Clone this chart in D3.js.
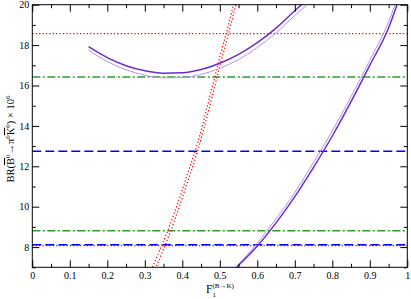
<!DOCTYPE html>
<html>
<head>
<meta charset="utf-8">
<script src="https://cdn.jsdelivr.net/npm/d3@7"></script>
<style>
  body { margin: 0; background: #fff; }
  svg { display: block; font-family: "Liberation Serif", "DejaVu Serif", serif; }
</style>
</head>
<body>
<svg id="chart" width="411" height="299"></svg>
<script>
// tick values
const xTicks = [0, 0.1, 0.2, 0.3, 0.4, 0.5, 0.6, 0.7, 0.8, 0.9, 1];
const xMinor = [0.05, 0.15, 0.25, 0.35, 0.45, 0.55, 0.65, 0.75, 0.85, 0.95];
const yTicks = [8, 10, 12, 14, 16, 18, 20];
const yMinor = [7, 9, 11, 13, 15, 17, 19];

// horizontal bands (BR values)
const hLines = [
  { y: 18.57, kind: "dot" },
  { y: 16.42, kind: "dashdot" },
  { y: 12.75, kind: "dash" },
  { y: 8.81, kind: "dashdot" },
  { y: 8.07, kind: "dot" },
  { y: 8.12, kind: "dash" }
];

// purple parabola pair
const parabF = [0.15, 0.2, 0.25, 0.3, 0.35, 0.4, 0.45, 0.5, 0.55, 0.6, 0.65, 0.7, 0.73];
const parabDark = [17.92, 17.38, 16.98, 16.73, 16.61, 16.63, 16.79, 17.10, 17.54, 18.12, 18.84, 19.70, 20.2];
const parabLight = [17.75, 17.19, 16.78, 16.51, 16.38, 16.40, 16.55, 16.85, 17.29, 17.88, 18.60, 19.47, 19.95];

// purple steep pair (right)
const steepF = [0.545, 0.6, 0.65, 0.7, 0.75, 0.8, 0.85, 0.9, 0.95, 0.98];
const steepDark = [7.0, 8.05, 9.2, 10.5, 11.95, 13.5, 15.2, 17.0, 18.85, 20.4];
const steepLight = [7.05, 8.2, 9.4, 10.7, 12.2, 13.75, 15.45, 17.25, 19.15, 20.7];

// red dotted pair
const redF = [0.32, 0.35, 0.38, 0.41, 0.44, 0.47, 0.50, 0.53, 0.55];
const redA = [7.0, 8.3, 9.75, 11.4, 13.1, 15.2, 17.4, 19.5, 21.0];
const redB = [6.6, 7.9, 9.35, 11.0, 12.7, 14.75, 16.95, 19.05, 20.55];

const svg = d3.select("#chart");
const width = +svg.attr("width");
const height = +svg.attr("height");
const margin = { top: 4.7, right: 3.7, bottom: 31.7, left: 32.3 };

const x = d3.scaleLinear().domain([0, 1]).range([margin.left, width - margin.right]);
const y = d3.scaleLinear().domain([7, 20]).range([height - margin.bottom, margin.top]);

svg.append("clipPath").attr("id", "plot")
  .append("rect")
  .attr("x", margin.left).attr("y", margin.top)
  .attr("width", x(1) - x(0)).attr("height", y(7) - y(20));

const styles = {
  dot: { color: "#ff0000", dash: "1.3,2.1", w: 1.2 },
  dashdot: { color: "#2e9a2e", dash: "8,2.5,2,2.5", w: 1.3 },
  dash: { color: "#0000ff", dash: "9,4", w: 1.5 }
};

const g = svg.append("g").attr("clip-path", "url(#plot)");

g.selectAll("line.h")
  .data(hLines)
  .enter()
  .append("line")
  .attr("class", "h")
  .attr("x1", x(0)).attr("x2", x(1))
  .attr("y1", d => y(d.y)).attr("y2", d => y(d.y))
  .attr("stroke", d => styles[d.kind].color)
  .attr("stroke-width", d => styles[d.kind].w)
  .attr("stroke-dasharray", d => styles[d.kind].dash);

const line = d3.line()
  .x(d => x(d[0]))
  .y(d => y(d[1]))
  .curve(d3.curveMonotoneX);

function series(fs, vs) {
  return fs.map((f, i) => [f, vs[i]]);
}

// red dotted pair
[series(redF, redA), series(redF, redB)].forEach(s => {
  g.append("path").datum(s)
    .attr("d", line)
    .attr("fill", "none")
    .attr("stroke", "#ff0000")
    .attr("stroke-width", 1.2)
    .attr("stroke-dasharray", "1.3,2.1");
});

// purple curves
const curves = [
  { d: series(parabF, parabLight), c: "#b58ff0", w: 1 },
  { d: series(parabF, parabDark), c: "#6a2cd0", w: 1.5 },
  { d: series(steepF, steepLight), c: "#b58ff0", w: 1 },
  { d: series(steepF, steepDark), c: "#6a2cd0", w: 1.5 }
];
curves.forEach(cv => {
  g.append("path").datum(cv.d)
    .attr("d", line)
    .attr("fill", "none")
    .attr("stroke", cv.c)
    .attr("stroke-width", cv.w);
});

// frame
svg.append("rect")
  .attr("x", x(0)).attr("y", y(20))
  .attr("width", x(1) - x(0)).attr("height", y(7) - y(20))
  .attr("fill", "none").attr("stroke", "#000").attr("stroke-width", 1);

// axes with inward ticks
function styleAxis(sel) {
  sel.select(".domain").remove();
  sel.selectAll("line").attr("stroke", "#000");
  sel.selectAll("text").attr("fill", "#000");
  sel.attr("font-family", null).attr("font-size", 10);
}

svg.append("g")
  .attr("transform", `translate(0,${y(7)})`)
  .call(d3.axisBottom(x).tickValues(xTicks).tickSize(-7).tickPadding(5).tickFormat(d => String(d)))
  .call(styleAxis);
svg.append("g")
  .attr("transform", `translate(0,${y(7)})`)
  .call(d3.axisBottom(x).tickValues(xMinor).tickSize(-3.5).tickFormat(""))
  .call(styleAxis);
svg.append("g")
  .attr("transform", `translate(0,${y(20)})`)
  .call(d3.axisTop(x).tickValues(xTicks).tickSize(-7).tickFormat(""))
  .call(styleAxis);
svg.append("g")
  .attr("transform", `translate(0,${y(20)})`)
  .call(d3.axisTop(x).tickValues(xMinor).tickSize(-3.5).tickFormat(""))
  .call(styleAxis);

svg.append("g")
  .attr("transform", `translate(${x(0)},0)`)
  .call(d3.axisLeft(y).tickValues(yTicks).tickSize(-7).tickPadding(3).tickFormat(d => String(d)))
  .call(styleAxis);
svg.append("g")
  .attr("transform", `translate(${x(0)},0)`)
  .call(d3.axisLeft(y).tickValues(yMinor).tickSize(-3.5).tickFormat(""))
  .call(styleAxis);
svg.append("g")
  .attr("transform", `translate(${x(1)},0)`)
  .call(d3.axisRight(y).tickValues(yTicks).tickSize(-7).tickFormat(""))
  .call(styleAxis);
svg.append("g")
  .attr("transform", `translate(${x(1)},0)`)
  .call(d3.axisRight(y).tickValues(yMinor).tickSize(-3.5).tickFormat(""))
  .call(styleAxis);

// x label: F_1^(B->K)
const xl = svg.append("text")
  .attr("x", 206).attr("y", 293)
  .attr("font-size", 11.5);
xl.append("tspan").text("F");
xl.append("tspan").attr("font-size", 7).attr("dy", 3.5).text("1");
xl.append("tspan").attr("font-size", 7).attr("dx", -3.5).attr("dy", -9).text("(B\u2192K)");

// y label: BR(B0bar -> pi0 K0bar) x 10^6
const yl = svg.append("text")
  .attr("transform", "translate(14,139) rotate(-90)")
  .attr("text-anchor", "middle")
  .attr("font-size", 10.5);
yl.append("tspan").text("BR(");
yl.append("tspan").style("text-decoration", "overline").text("B");
yl.append("tspan").attr("font-size", 7).attr("dy", -4.5).text("0");
yl.append("tspan").attr("dy", 4.5).text("\u2192\u03c0");
yl.append("tspan").attr("font-size", 7).attr("dy", -4.5).text("0");
yl.append("tspan").attr("dy", 4.5).style("text-decoration", "overline").text("K");
yl.append("tspan").attr("font-size", 7).attr("dy", -4.5).text("0");
yl.append("tspan").attr("dy", 4.5).text(") \u00d7 10");
yl.append("tspan").attr("font-size", 7).attr("dy", -4.5).text("6");
</script>
</body>
</html>
